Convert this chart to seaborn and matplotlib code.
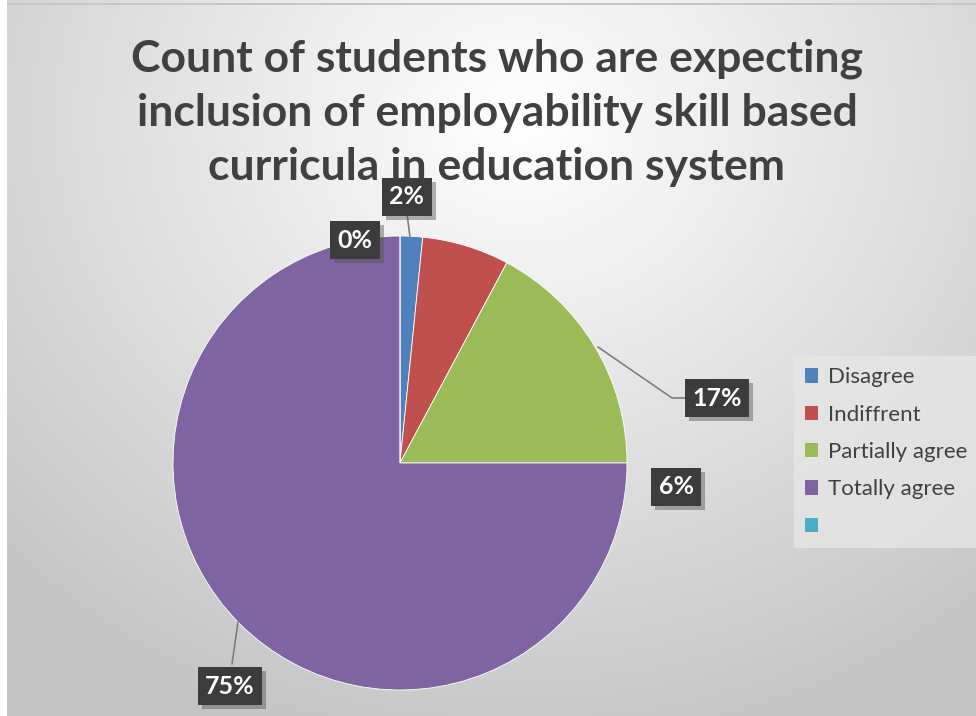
import numpy as np
import matplotlib
matplotlib.use("Agg")
import matplotlib.pyplot as plt
import matplotlib.patheffects as pe
from matplotlib.patches import Rectangle
import seaborn as sns

# ---- data ----
categories = ["Disagree", "Indiffrent", "Partially agree", "Totally agree", ""]
values = [1.6, 6.2, 17.2, 75.0, 0.0]
label_texts = ["2%", "6%", "17%", "75%", "0%"]
title = "Count of students who are expecting\ninclusion of employability skill based\ncurricula in education system"

sns.set_theme(style="white")
plt.rcParams["font.family"] = ["Lato", "DejaVu Sans"]

palette = sns.color_palette(["#4F81BD", "#C0504D", "#9BBB59", "#8064A2", "#4BACC6"])

W, H = 976, 716
fig = plt.figure(figsize=(W / 100, H / 100), dpi=100)

# background gradient
bg = fig.add_axes([0, 0, 1, 1])
yy, xx = np.mgrid[0:H, 0:W]
d = np.sqrt(((xx - 520) / 700.0) ** 2 + ((yy - 120) / 620.0) ** 2)
val = 1.0 - 0.22 * np.clip(d, 0, 1.05)
img = np.dstack([val, val, val])
img[:, :7, :] = 1.0
img[3:5, 7:, :] = 0.78
bg.imshow(img, extent=[0, W, H, 0], aspect="auto", interpolation="bilinear")
bg.set_xlim(0, W); bg.set_ylim(H, 0); bg.axis("off")

# pie axes: center at pixel (400,463), radius 227 px
cx, cy, R = 400, 463, 227
ax = fig.add_axes([0, 0, 1, 1])
ax.patch.set_alpha(0)
wedges, _ = ax.pie(values, colors=palette, startangle=90, counterclock=False,
                   radius=1, center=(0, 0),
                   wedgeprops=dict(edgecolor="white", linewidth=0.6))
ax.set_xlim(-cx / R, (W - cx) / R)
ax.set_ylim(-(H - cy) / R, cy / R)
ax.set_aspect("auto")
ax.axis("off")

def px(x, y):
    return ((x - cx) / R, (cy - y) / R)

# label positions (pixel coords)
label_pos = [(407, 197), (676, 487), (717, 398), (230, 686), (355, 240)]
leaders = [
    [(410, 237), (407, 214)],
    None,
    [(598, 347), (672, 398), (690, 398)],
    [(238, 622), (232, 664)],
    None,
]
for pts in leaders:
    if pts:
        xs, ys = zip(*[px(*p) for p in pts])
        ax.plot(xs, ys, color="#7f7f7f", lw=1.2, zorder=3)

for txt, (lx, ly) in zip(label_texts, label_pos):
    t = ax.text(*px(lx, ly), txt, ha="center", va="center", color="white",
                fontsize=18, fontweight="bold", zorder=5,
                bbox=dict(boxstyle="square,pad=0.3", facecolor="#3c3c3c",
                          edgecolor="none"))
    t.get_bbox_patch().set_path_effects(
        [pe.SimplePatchShadow(offset=(3, -3), shadow_rgbFace="#555555", alpha=0.45),
         pe.Normal()])

# title
fig.text(497 / W, 1 - 113 / H, title, ha="center", va="center",
         fontsize=32, fontweight="bold", color="#404040", linespacing=1.42)

# legend
handles = [Rectangle((0, 0), 1, 1, facecolor=c, edgecolor="none") for c in palette]
leg = fig.legend(handles, categories, loc="center left",
                 bbox_to_anchor=(794 / W, 1 - 452 / H), frameon=True,
                 fontsize=16, handlelength=0.6, handleheight=0.6,
                 labelspacing=0.78, handletextpad=0.45, borderpad=0.5,
                 borderaxespad=0.0, fancybox=False)
leg.get_frame().set_facecolor("#e6e6e6")
leg.get_frame().set_edgecolor("none")
leg.get_frame().set_alpha(0.8)
for t in leg.get_texts():
    t.set_color("#404040")

fig.savefig("out.png", dpi=100)
